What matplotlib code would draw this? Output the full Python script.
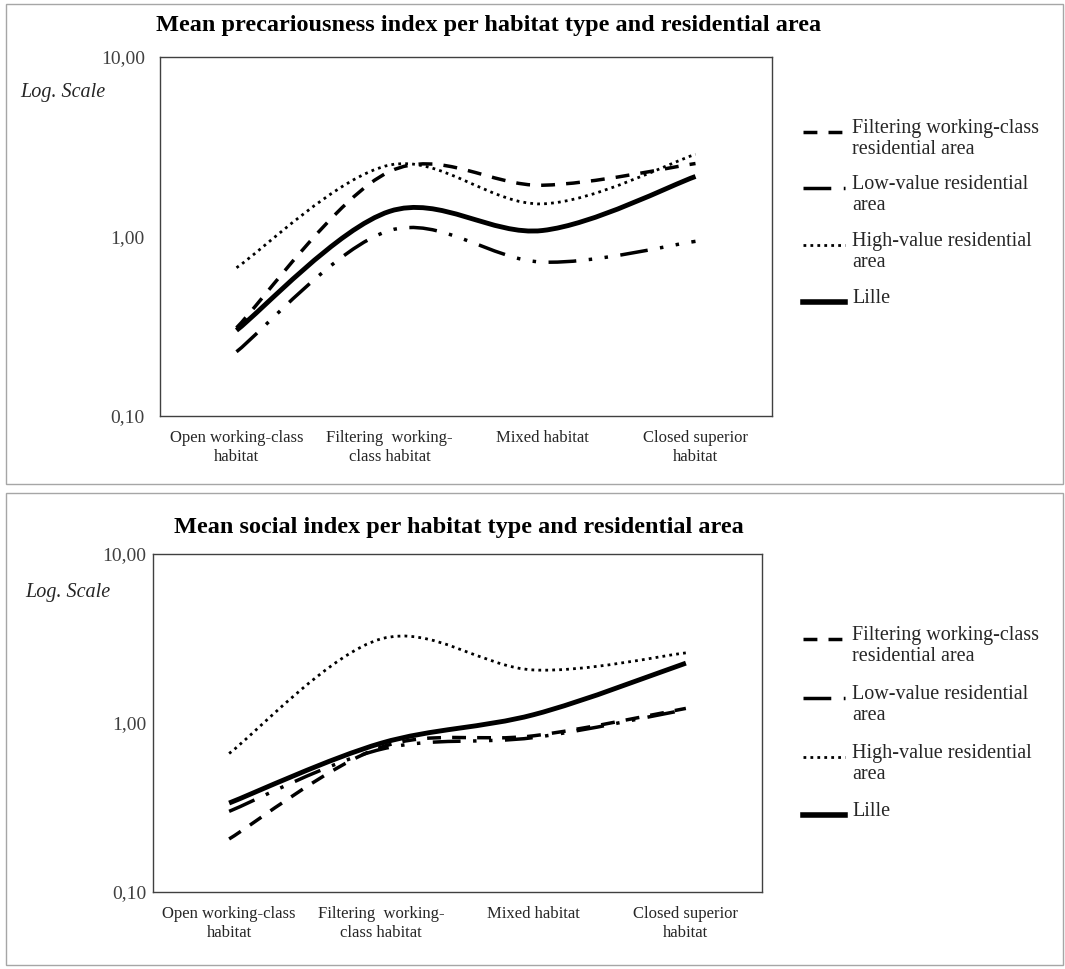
import numpy as np
import matplotlib
matplotlib.use("Agg")
from matplotlib import pyplot as plt
from matplotlib.path import Path
from matplotlib.patches import PathPatch, Rectangle
from matplotlib.lines import Line2D

plt.rcParams['font.family'] = ['Liberation Serif', 'DejaVu Serif']
plt.rcParams['lines.scale_dashes'] = False

categorias = ["Open working-class\nhabitat", "Filtering  working-\nclass habitat",
              "Mixed habitat", "Closed superior\nhabitat"]
series = ["Filtering working-class\nresidential area", "Low-value residential\narea",
          "High-value residential\narea", "Lille"]

# valores (escala log)
precario_filtering = [0.31, 2.30, 1.93, 2.55]
precario_low = [0.228, 1.08, 0.72, 0.94]
precario_high = [0.67, 2.50, 1.52, 2.87]
precario_lille = [0.30, 1.38, 1.08, 2.16]

social_filtering = [0.206, 0.72, 0.84, 1.22]
social_low = [0.30, 0.70, 0.82, 1.20]
social_high = [0.66, 3.15, 2.06, 2.60]
social_lille = [0.336, 0.76, 1.12, 2.26]

titulos = ["Mean precariousness index per habitat type and residential area",
           "Mean social index per habitat type and residential area"]

estilos = [
    dict(lw=2.5, ls=(0, (10, 8))),
    dict(lw=2.5, ls=(0, (20, 9, 2.5, 9, 2.5, 9))),
    dict(lw=2.0, ls=(0, (2, 3))),
    dict(lw=3.5, ls='-'),
]

W, H = 1065, 969
fig = plt.figure(figsize=(W / 100, H / 100), dpi=100)


def caixa(x0, y0, x1, y1):
    return [x0 / W, 1 - y1 / H, (x1 - x0) / W, (y1 - y0) / H]


def curva_suave(ax, xs, ys, **kw):
    # curva de Bezier como o "smoothed line" do Excel, em espaco (x, log y)
    xs = np.asarray(xs, float)
    ly = np.log10(ys)
    pts = np.column_stack([xs, ly])
    n = len(pts)
    verts = [pts[0]]
    codes = [Path.MOVETO]
    for i in range(n - 1):
        p_ant = pts[max(i - 1, 0)]
        p0 = pts[i]
        p1 = pts[i + 1]
        p_prox = pts[min(i + 2, n - 1)]
        c1 = p0 + (p1 - p_ant) / 6
        c2 = p1 - (p_prox - p0) / 6
        verts += [c1, c2, p1]
        codes += [Path.CURVE4] * 3
    verts = np.array(verts)
    verts[:, 1] = 10 ** verts[:, 1]
    patch = PathPatch(Path(verts, codes), fill=False, edgecolor='black',
                      linewidth=kw['lw'], linestyle=kw['ls'], capstyle='butt')
    ax.add_patch(patch)


def painel(borda, eixo, dados, titulo, pos_titulo, pos_log, y_leg, pad_y):
    fig.add_artist(Rectangle((borda[0] / W, 1 - borda[3] / H),
                             (borda[2] - borda[0]) / W, (borda[3] - borda[1]) / H,
                             transform=fig.transFigure, fill=False,
                             edgecolor='#a6a6a6', lw=1))
    ax = fig.add_axes(caixa(*eixo))
    x = np.arange(len(categorias))
    for ys, st in zip(dados, estilos):
        curva_suave(ax, x, ys, **st)
    ax.set_yscale('log')
    ax.set_ylim(0.1, 10)
    ax.set_xlim(-0.5, len(categorias) - 0.5)
    ax.set_yticks([0.1, 1, 10])
    ax.set_yticklabels(["0,10", "1,00", "10,00"])
    ax.yaxis.set_minor_locator(matplotlib.ticker.NullLocator())
    ax.set_xticks(x)
    ax.set_xticklabels(categorias, fontsize=12, color='#262626', linespacing=1.3)
    ax.tick_params(axis='x', length=0, pad=10)
    ax.tick_params(axis='y', length=0, pad=pad_y, labelsize=14, labelcolor='#404040')
    for s in ax.spines.values():
        s.set_color('#404040')
        s.set_linewidth(1)

    fig.text(pos_titulo[0] / W, 1 - pos_titulo[1] / H, titulo, ha='center',
             va='center', fontsize=17.5, fontweight='bold')
    fig.text(pos_log[0] / W, 1 - pos_log[1] / H, "Log. Scale", ha='left',
             va='center', fontsize=14.5, style='italic', color='#262626')

    # legenda
    for yl, nome, st in zip(y_leg, series, estilos):
        fig.add_artist(Line2D([803 / W, 845 / W], [1 - yl / H, 1 - yl / H],
                              transform=fig.transFigure, color='black',
                              lw=st['lw'] + (0.5 if st['ls'] == '-' else 0),
                              ls=st['ls']))
        fig.text(852 / W, 1 - (yl - 13) / H, nome, ha='left', va='top',
                 fontsize=14.5, color='#262626', linespacing=1.15)
    return ax


painel((6, 4, 1063, 484), (160, 57, 772, 416),
       [precario_filtering, precario_low, precario_high, precario_lille],
       titulos[0], (489, 26), (20, 93), [132, 188, 245, 302], 11)
painel((6, 493, 1063, 965), (153, 554, 762, 892),
       [social_filtering, social_low, social_high, social_lille],
       titulos[1], (459, 527), (25, 593), [639, 698, 757, 815], 5)

fig.savefig("out.png", dpi=100)
